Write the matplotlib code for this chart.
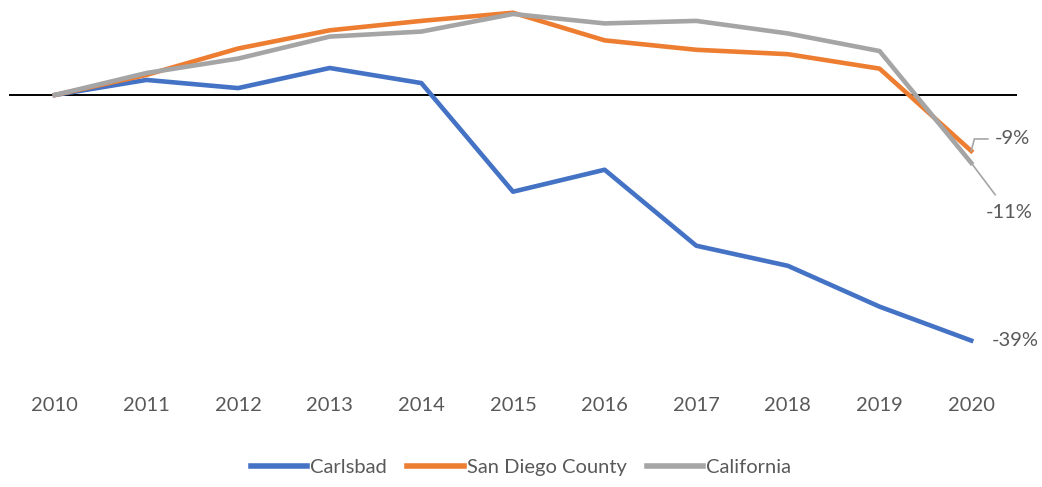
import matplotlib
matplotlib.use("Agg")
import matplotlib.pyplot as plt

years = ["2010", "2011", "2012", "2013", "2014", "2015", "2016", "2017", "2018", "2019", "2020"]
carlsbad = [0, 2.4, 1.1, 4.3, 1.9, -15.4, -11.9, -24.0, -27.2, -33.7, -39.1]
san_diego = [0, 3.2, 7.4, 10.3, 11.8, 13.1, 8.7, 7.2, 6.5, 4.2, -8.9]
california = [0, 3.5, 5.8, 9.3, 10.1, 12.9, 11.4, 11.8, 9.8, 7.0, -10.8]
end_labels = ["-39%", "-9%", "-11%"]

plt.rcParams['font.family'] = ['Lato', 'DejaVu Sans']
txt = '#595959'
fs = 14.5

fig = plt.figure(figsize=(10.42, 4.87), dpi=100)
ax = fig.add_axes([9 / 1042, 1 - 377.6 / 487, 1008 / 1042, (377.6 - 0.8) / 487])

x = list(range(len(years)))
ax.axhline(0, color='black', lw=1.4, zorder=1)
ax.plot(x, carlsbad, color='#4472C4', lw=3.3, label='Carlsbad', zorder=3)
ax.plot(x, san_diego, color='#ED7D31', lw=3.3, label='San Diego County', zorder=3)
ax.plot(x, california, color='#A5A5A5', lw=3.3, label='California', zorder=3)

ax.set_xlim(-0.5, 10.5)
ax.set_ylim(-45, 15)
ax.set_xticks(x)
ax.set_xticklabels(years)
ax.set_yticks([])
ax.tick_params(axis='x', length=0, pad=14, labelsize=fs, labelcolor=txt)
for s in ax.spines.values():
    s.set_visible(False)

# end labels
ax.text(10.22, carlsbad[-1], end_labels[0], ha='left', va='center', fontsize=fs, color=txt)
ax.annotate(end_labels[1], xy=(10, san_diego[-1]), xytext=(10.26, -7.0),
            ha='left', va='center', fontsize=fs, color=txt,
            arrowprops=dict(arrowstyle='-', color='#A5A5A5', lw=1.2,
                            connectionstyle='angle,angleA=0,angleB=75,rad=0',
                            shrinkA=3, shrinkB=0))
ax.annotate(end_labels[2], xy=(10, california[-1]), xytext=(10.41, -17.4),
            ha='center', va='top', fontsize=fs, color=txt,
            arrowprops=dict(arrowstyle='-', color='#A5A5A5', lw=1.2,
                            shrinkA=6, shrinkB=0))

leg = fig.legend(loc='center', bbox_to_anchor=(0.5, 1 - 467 / 487), ncol=3, frameon=False,
                 fontsize=fs, handlelength=2.8, handletextpad=0.15, columnspacing=1.0)
for t in leg.get_texts():
    t.set_color(txt)
for h in leg.legend_handles:
    h.set_linewidth(4)

fig.savefig('out.png', dpi=100)
